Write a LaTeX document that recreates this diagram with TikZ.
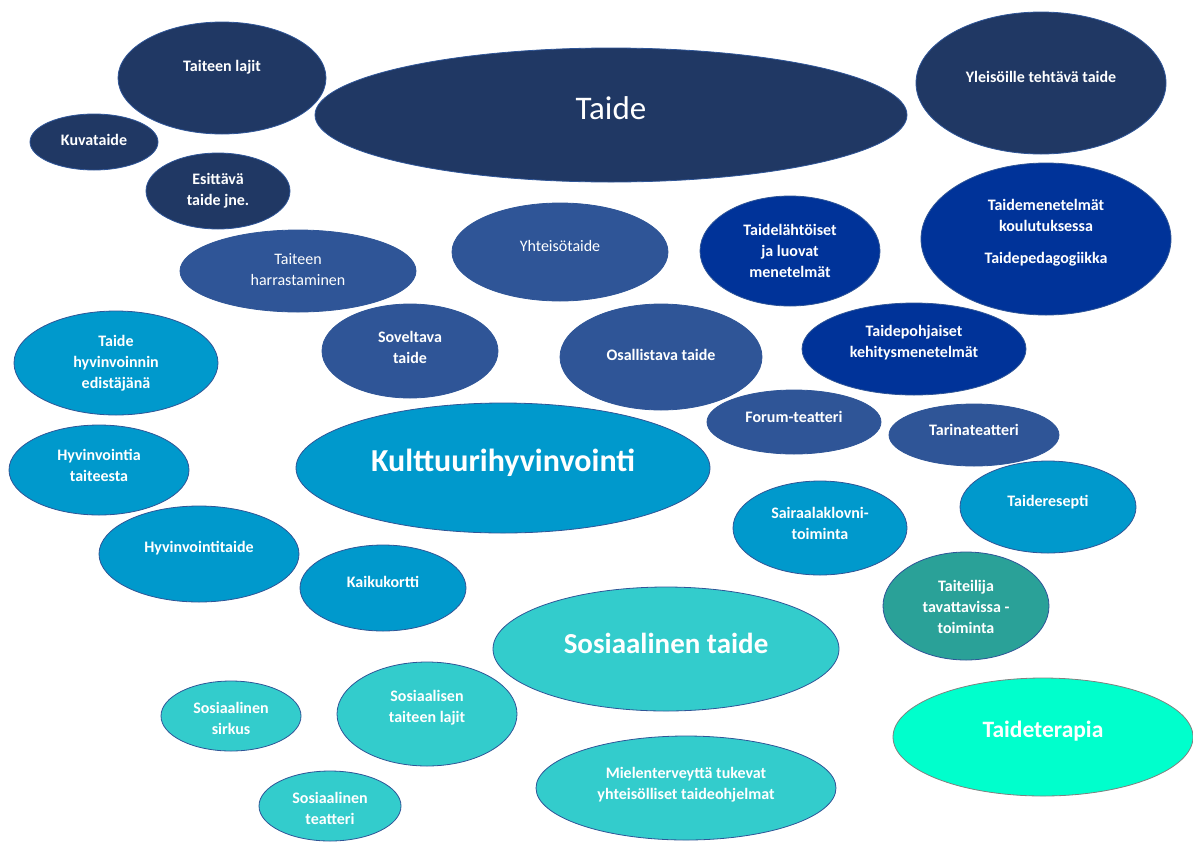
\documentclass[tikz,border=0pt]{standalone}
\usepackage{fontspec}
\setmainfont{Carlito}
\usetikzlibrary{shapes.geometric,positioning}

\definecolor{navy}{HTML}{203864}
\definecolor{midblue}{HTML}{2F5597}
\definecolor{royal}{HTML}{003399}
\definecolor{sky}{HTML}{0099CC}
\definecolor{turq}{HTML}{33CCCC}
\definecolor{sea}{HTML}{2AA198}
\definecolor{mint}{HTML}{00FFCC}

\tikzset{
  bub/.style={ellipse, draw=midblue, line width=0.8pt, inner sep=0pt},
  lbl/.style={text=white, align=center, font=\bfseries\fontsize{16}{21}\selectfont}
}

\begin{document}
\begin{tikzpicture}[x=1pt,y=-1pt]
\useasboundingbox (0,0) rectangle (1193,841);

% name/colour/x/y/rx/ry/text y/text
\foreach \nm/\col/\x/\y/\rx/\ry/\ty/\txt in {
  lajit/navy/222/78/104/56/67/{Taiteen lajit},
  yleiso/navy/1041/83/125/71/77/{Yleisöille tehtävä taide},
  kuva/navy/94/142/64/28/140/{Kuvataide},
  esitt/navy/218/191/72/38/191/{Esittävä\\taide jne.},
  harr/midblue/298/271/118/41/270/{\mdseries Taiteen\\\mdseries harrastaminen},
  yhteis/midblue/560/252/108/49/246/{\mdseries Yhteisötaide},
  lahto/royal/790/251/90/55/251/{Taidelähtöiset\\ja luovat\\menetelmät},
  koulu/royal/1046/239/125/76/233/{Taidemenetelmät\\koulutuksessa\\[11pt]Taidepedagogiikka},
  edist/sky/116/363/102/52/363/{Taide\\hyvinvoinnin\\edistäjänä},
  sovel/midblue/410/351/88/47/347/{Soveltava\\taide},
  osall/midblue/661/357/101/53/355/{Osallistava taide},
  kehit/royal/914/349/112/46/343/{Taidepohjaiset\\kehitysmenetelmät},
  forum/midblue/794/422/87/32/417/{Forum-teatteri},
  tarina/midblue/974/435/85/31/430/{Tarinateatteri},
  taiteesta/sky/99/470/90/45/465/{Hyvinvointia\\taiteesta},
  klovni/sky/820/528/87/47/523/{Sairaalaklovni-\\toiminta},
  resepti/sky/1048/507/88/46/502/{Taideresepti},
  hyvtaide/sky/199/554/100/48/548/{Hyvinvointitaide},
  kaiku/sky/383/588/83/43/582/{Kaikukortti},
  tavatt/sea/966/606/83/54/607/{Taiteilija\\tavattavissa -\\toiminta},
  sirkus/turq/231/716/70/35/718/{Sosiaalinen\\sirkus},
  soslajit/turq/427/714/90/52/708/{Sosiaalisen\\taiteen lajit},
  mielen/turq/686/788/150/52/785/{Mielenterveyttä tukevat\\yhteisölliset taideohjelmat},
  teatteri/turq/330/806/71/35/808/{Sosiaalinen\\teatteri}}
{
  \node[bub, fill=\col, minimum width=2*\rx, minimum height=2*\ry] (\nm) at (\x,\y) {};
  \node[lbl] (\nm-t) at (\x,\ty) {\txt};
}

% the four main bubbles
\node[bub, fill=navy, minimum width=592, minimum height=134] (taide) at (611,115) {};
\node[lbl, font=\fontsize{33}{38}\selectfont] (taide-t) at (611,108) {Taide};

\node[bub, fill=sky, minimum width=414, minimum height=130] (kult) at (503,468) {};
\node[lbl, font=\bfseries\fontsize{32}{38}\selectfont] (kult-t) at (503,463) {Kulttuurihyvinvointi};

\node[bub, fill=turq, minimum width=346, minimum height=124] (sostaide) at (666,649) {};
\node[lbl, font=\bfseries\fontsize{29}{34}\selectfont] (sostaide-t) at (666,643) {Sosiaalinen taide};

\node[bub, draw=gray, fill=mint, minimum width=300, minimum height=118] (terapia) at (1043,737) {};
\node[lbl, font=\bfseries\fontsize{23.5}{28}\selectfont] (terapia-t) at (1043,731) {Taideterapia};

\end{tikzpicture}
\end{document}
